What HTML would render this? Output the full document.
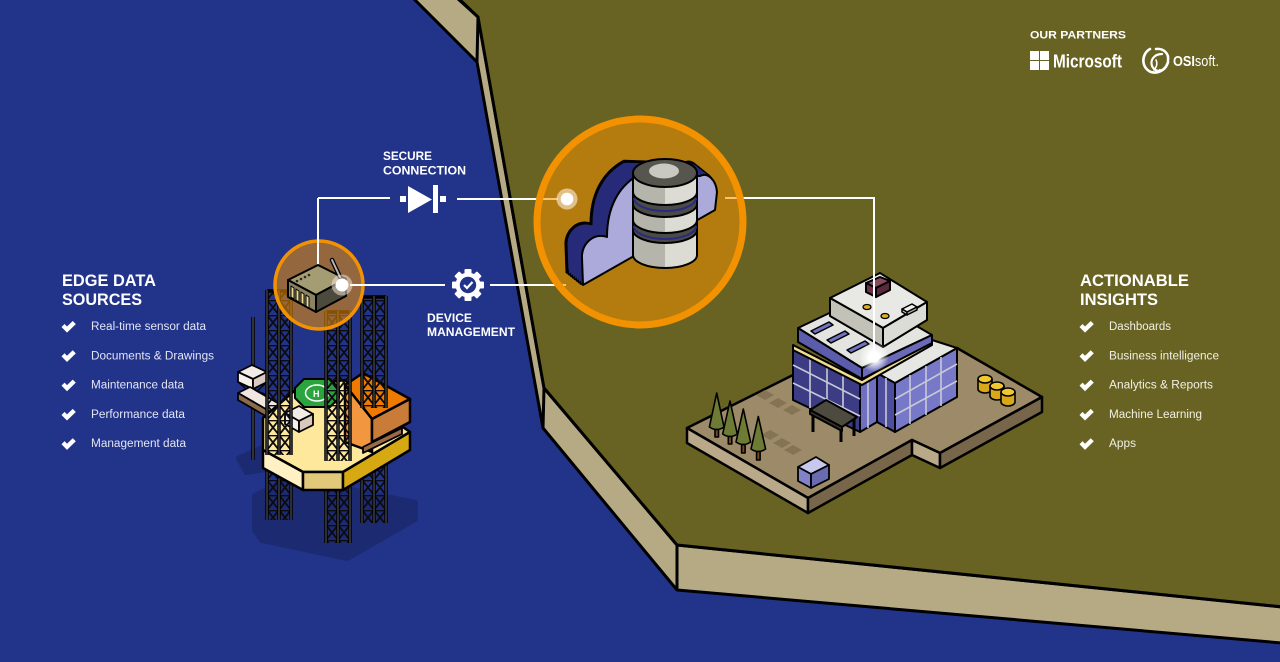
<!DOCTYPE html>
<html><head><meta charset="utf-8">
<style>
html,body{margin:0;padding:0;background:#22338a;}
svg{display:block;}
text{font-family:"Liberation Sans",sans-serif;}
</style></head><body>
<svg width="1280" height="662" viewBox="0 0 1280 662" xmlns="http://www.w3.org/2000/svg" xmlns:xlink="http://www.w3.org/1999/xlink">
<defs>
 <pattern id="pA" x="267" y="0" width="12" height="15" patternUnits="userSpaceOnUse"><path d="M0,0L12,15M12,0L0,15M0,0.5H12" stroke="#0b0b10" stroke-width="1.8" fill="none"/></pattern>
 <pattern id="pB" x="326" y="0" width="12" height="15" patternUnits="userSpaceOnUse"><path d="M0,0L12,15M12,0L0,15M0,0.5H12" stroke="#0b0b10" stroke-width="1.8" fill="none"/></pattern>
 <pattern id="pC" x="362" y="0" width="12" height="15" patternUnits="userSpaceOnUse"><path d="M0,0L12,15M12,0L0,15M0,0.5H12" stroke="#0b0b10" stroke-width="1.8" fill="none"/></pattern>
 <radialGradient id="glow"><stop offset="0" stop-color="#fff" stop-opacity="1"/><stop offset="0.35" stop-color="#fff" stop-opacity="0.95"/><stop offset="1" stop-color="#fff" stop-opacity="0"/></radialGradient>
 <linearGradient id="cyl" x1="633" x2="697" y1="0" y2="0" gradientUnits="userSpaceOnUse"><stop offset="0.5" stop-color="#b5b5ab"/><stop offset="0.5" stop-color="#dcdcd4"/></linearGradient>
 <path id="cl" d="M583,285 L582,258 C581,244 594,232 607,237 C607,208 618,186 640,174 L700,176 C708,172 716,180 717,192 L715,210 Z"/>
 <path id="chk" d="M0,5.5 L2.8,2.7 L5,5 L10.2,0 L13,2.8 L5,10.6 Z"/>
</defs>

<rect width="1280" height="662" fill="#22338a"/>

<!-- land -->
<polygon points="413,-2 457,-2 478,17 544,388 677,545 1282,607 1282,643 677,590 543,428 477,62" fill="#b5aa83" stroke="#000" stroke-width="3" stroke-linejoin="round"/>
<polygon points="457,-3 478,17 544,388 677,545 1283,607 1283,-3" fill="#686223" stroke="#000" stroke-width="3" stroke-linejoin="round"/>
<line x1="478" y1="17" x2="477" y2="62" stroke="#000" stroke-width="3"/>
<line x1="544" y1="388" x2="543" y2="428" stroke="#000" stroke-width="3"/>
<line x1="677" y1="545" x2="677" y2="590" stroke="#000" stroke-width="3"/>

<!-- partners -->
<text x="1030" y="38.5" font-size="11" font-weight="bold" fill="#fff" textLength="96" lengthAdjust="spacingAndGlyphs">OUR PARTNERS</text>
<g fill="#fff">
 <rect x="1030" y="51" width="9" height="9"/><rect x="1040" y="51" width="9" height="9"/>
 <rect x="1030" y="61" width="9" height="9"/><rect x="1040" y="61" width="9" height="9"/>
</g>
<text x="1053" y="67.5" font-size="18" font-weight="bold" fill="#fff" textLength="69" lengthAdjust="spacingAndGlyphs">Microsoft</text>
<g fill="none" stroke="#fff" stroke-linecap="round">
 <path d="M1150,49 C1141,54 1141,68 1151,72 C1158,74 1166,70 1168,62" stroke-width="2.6"/>
 <path d="M1156,49 C1164,48 1169,54 1168,60" stroke-width="2.6"/>
 <path d="M1162,54 C1154,54 1150,60 1152,66 C1154,70 1158,72 1160,70" stroke-width="2.2"/>
 <path d="M1156,60 C1158,64 1156,68 1154,70" stroke-width="1.6"/>
</g>
<text x="1173" y="66" font-size="15" fill="#fff" textLength="46" lengthAdjust="spacingAndGlyphs"><tspan font-weight="bold">OSI</tspan>soft.</text>

<!-- headings -->
<g fill="#fff" font-weight="bold" font-size="16.5">
 <text x="62" y="286" textLength="94" lengthAdjust="spacingAndGlyphs">EDGE DATA</text>
 <text x="62" y="305" textLength="80" lengthAdjust="spacingAndGlyphs">SOURCES</text>
 <text x="1080" y="286" textLength="109" lengthAdjust="spacingAndGlyphs">ACTIONABLE</text>
 <text x="1080" y="305" textLength="78" lengthAdjust="spacingAndGlyphs">INSIGHTS</text>
</g>
<g fill="#fff">
 <use xlink:href="#chk" transform="translate(61.5,321) scale(1.1)"/>
 <use xlink:href="#chk" transform="translate(61.5,350.3) scale(1.1)"/>
 <use xlink:href="#chk" transform="translate(61.5,379.6) scale(1.1)"/>
 <use xlink:href="#chk" transform="translate(61.5,408.9) scale(1.1)"/>
 <use xlink:href="#chk" transform="translate(61.5,438.2) scale(1.1)"/>
 <use xlink:href="#chk" transform="translate(1079.5,321) scale(1.1)"/>
 <use xlink:href="#chk" transform="translate(1079.5,350.3) scale(1.1)"/>
 <use xlink:href="#chk" transform="translate(1079.5,379.6) scale(1.1)"/>
 <use xlink:href="#chk" transform="translate(1079.5,408.9) scale(1.1)"/>
 <use xlink:href="#chk" transform="translate(1079.5,438.2) scale(1.1)"/>
</g>
<g fill="#e2e5f4" font-size="11.5">
 <text x="91" y="330" textLength="115" lengthAdjust="spacingAndGlyphs">Real-time sensor data</text>
 <text x="91" y="359.3" textLength="123" lengthAdjust="spacingAndGlyphs">Documents &amp; Drawings</text>
 <text x="91" y="388.6" textLength="93" lengthAdjust="spacingAndGlyphs">Maintenance data</text>
 <text x="91" y="417.9" textLength="94" lengthAdjust="spacingAndGlyphs">Performance data</text>
 <text x="91" y="447.2" textLength="95" lengthAdjust="spacingAndGlyphs">Management data</text>
</g>
<g fill="#f1f0e4" font-size="11.5">
 <text x="1109" y="330" textLength="62" lengthAdjust="spacingAndGlyphs">Dashboards</text>
 <text x="1109" y="359.3" textLength="110" lengthAdjust="spacingAndGlyphs">Business intelligence</text>
 <text x="1109" y="388.6" textLength="104" lengthAdjust="spacingAndGlyphs">Analytics &amp; Reports</text>
 <text x="1109" y="417.9" textLength="93" lengthAdjust="spacingAndGlyphs">Machine Learning</text>
 <text x="1109" y="447.2" textLength="27" lengthAdjust="spacingAndGlyphs">Apps</text>
</g>

<!-- connection labels -->
<g fill="#fff" font-weight="bold" font-size="11.5">
 <text x="383" y="160" textLength="49" lengthAdjust="spacingAndGlyphs">SECURE</text>
 <text x="383" y="174.5" textLength="83" lengthAdjust="spacingAndGlyphs">CONNECTION</text>
 <text x="427" y="322" textLength="45" lengthAdjust="spacingAndGlyphs">DEVICE</text>
 <text x="427" y="336" textLength="88" lengthAdjust="spacingAndGlyphs">MANAGEMENT</text>
</g>

<!-- ========== RIG ========== -->
<polygon points="255,496 292,478 415,503 415,519 347,558 262,540 255,530" fill="#1c2a72" stroke="#1c2a72" stroke-width="6" stroke-linejoin="round"/>
<polygon points="238,458 260,448 266,470 246,473" fill="#1c2a72" stroke="#1c2a72" stroke-width="4" stroke-linejoin="round"/>

<!-- lower legs -->
<g>
 <rect x="267" y="466" width="24" height="54" fill="url(#pA)"/>
 <path d="M267,466V520M279,466V520M291,466V520" stroke="#000" stroke-width="3.5"/>
 <path d="M267,466V520M279,466V520M291,466V520" stroke="#5c5c5c" stroke-width="1"/>
 <rect x="326" y="480" width="24" height="63" fill="url(#pB)"/>
 <path d="M326,480V543M338,480V543M350,480V543" stroke="#000" stroke-width="3.5"/>
 <path d="M326,480V543M338,480V543M350,480V543" stroke="#5c5c5c" stroke-width="1"/>
 <rect x="362" y="450" width="24" height="73" fill="url(#pC)"/>
 <path d="M362,450V523M374,450V523M386,450V523" stroke="#000" stroke-width="3.5"/>
 <path d="M362,450V523M374,450V523M386,450V523" stroke="#5c5c5c" stroke-width="1"/>
</g>

<!-- thin pole -->
<line x1="253" y1="317" x2="253" y2="460" stroke="#000" stroke-width="3.5"/>
<line x1="253" y1="317" x2="253" y2="460" stroke="#666" stroke-width="1"/>

<!-- left structure -->
<g stroke="#000" stroke-width="1.8" stroke-linejoin="round">
 <polygon points="238,372 252,365 267,372 253,379" fill="#f2ebe6"/>
 <polygon points="238,372 253,379 253,389 238,382" fill="#f6f0ea"/>
 <polygon points="253,379 267,372 267,382 253,389" fill="#d9cbc2"/>
 <path d="M238,382 L253,395 M253,389 L238,395 M253,389 L267,395 M267,382 L253,395" fill="none" stroke-width="1.2"/>
 <polygon points="238,393 250,387 295,413 283,419" fill="#f1e7e1"/>
 <polygon points="238,393 283,419 283,426 238,400" fill="#8c6a4e"/>
</g>

<!-- platform -->
<g stroke="#000" stroke-width="2.5" stroke-linejoin="round">
 <polygon points="263,450 303,472 343,472 410,432 390,418 345,380 300,386 263,418" fill="#fde89c"/>
 <polygon points="263,450 303,472 303,490 263,468" fill="#fff1c4"/>
 <polygon points="303,472 343,472 343,490 303,490" fill="#e2c97a"/>
 <polygon points="343,472 410,432 410,450 343,490" fill="#d6a913"/>
</g>

<!-- helipad -->
<polygon points="304,379 330,379 339,388 339,398 330,407 304,407 295,398 295,388" fill="#2aa43c" stroke="#000" stroke-width="2" stroke-linejoin="round"/>
<ellipse cx="317" cy="393" rx="11.5" ry="8" fill="none" stroke="#fff" stroke-width="1.5"/>
<text x="313" y="397" font-size="9" font-weight="bold" fill="#fff">H</text>

<!-- white block -->
<g stroke="#000" stroke-width="1.8" stroke-linejoin="round">
 <polygon points="285,413 299,406 313,414 299,421" fill="#f3ece6"/>
 <polygon points="285,413 299,421 299,432 285,424" fill="#f6f0ea"/>
 <polygon points="299,421 313,414 313,425 299,432" fill="#d9c9bc"/>
</g>

<!-- orange block -->
<g stroke="#000" stroke-width="2.5" stroke-linejoin="round">
 <polygon points="345,385 363,373 410,399 372,419" fill="#ef7a00"/>
 <polygon points="345,385 372,419 372,452 345,442" fill="#f39640"/>
 <polygon points="372,419 410,399 410,422 372,442" fill="#c97c38"/>
 <polygon points="363,447 402,428 402,434 363,453" fill="#9a6a48" stroke-width="1.8"/>
</g>

<!-- upper towers -->
<g>
 <rect x="267" y="290" width="24" height="165" fill="url(#pA)"/>
 <path d="M267,290V455M279,290V455M291,290V455M267,291H291" stroke="#000" stroke-width="3.5"/>
 <path d="M267,290V455M279,290V455M291,290V455" stroke="#5c5c5c" stroke-width="1"/>
 <rect x="326" y="311" width="24" height="150" fill="url(#pB)"/>
 <path d="M326,311V461M338,311V461M350,311V461M326,312H350" stroke="#000" stroke-width="3.5"/>
 <path d="M326,311V461M338,311V461M350,311V461" stroke="#5c5c5c" stroke-width="1"/>
 <rect x="362" y="296" width="24" height="112" fill="url(#pC)"/>
 <path d="M362,296V408M374,296V408M386,296V408M362,297H386" stroke="#000" stroke-width="3.5"/>
 <path d="M362,296V408M374,296V408M386,296V408" stroke="#5c5c5c" stroke-width="1"/>
</g>

<!-- small orange circle -->
<circle cx="319" cy="285" r="44" fill="rgba(243,146,0,0.55)" stroke="#f39200" stroke-width="3.5"/>

<!-- router -->
<line x1="318" y1="271" x2="318" y2="198" stroke="#fff" stroke-width="2"/>
<g stroke="#000" stroke-width="2" stroke-linejoin="round">
 <polygon points="288,280 318,265 346,279 316,295" fill="#a49c72"/>
 <polygon points="288,280 316,295 316,312 288,297" fill="#8a8262"/>
 <polygon points="316,295 346,279 346,296 316,312" fill="#4c4a3c"/>
 <g fill="#ecdc94" stroke-width="1">
  <polygon points="291,286 294,288 294,299 291,297"/>
  <polygon points="296,289 299,291 299,302 296,300"/>
  <polygon points="301,292 304,294 304,305 301,303"/>
  <polygon points="306,295 309,297 309,308 306,306"/>
 </g>
</g>
<g fill="#2a2a22"><circle cx="297" cy="281" r="1.3"/><circle cx="301" cy="279" r="1.3"/><circle cx="305" cy="277" r="1.3"/><circle cx="309" cy="275" r="1.3"/></g>
<line x1="332" y1="260" x2="340" y2="277" stroke="#000" stroke-width="4.5" stroke-linecap="round"/>
<line x1="332" y1="260" x2="340" y2="277" stroke="#b8b8b8" stroke-width="2" stroke-linecap="round"/>

<!-- connectors -->
<g stroke="#fff" stroke-width="2" fill="none">
 <path d="M318,198 H390"/>
 <path d="M457,199 H558"/>
 <path d="M350,285 H445"/>
 <path d="M490,285 H566"/>
 <path d="M725,198 H874 V352"/>
</g>
<circle cx="342" cy="285" r="10.5" fill="rgba(255,240,225,0.5)"/>
<circle cx="342" cy="285" r="6.5" fill="#fff"/>

<!-- diode -->
<g fill="#fff">
 <rect x="400" y="196" width="6" height="6"/>
 <polygon points="408,186 408,213 432,199.5"/>
 <rect x="433" y="185" width="5" height="28"/>
 <rect x="440" y="196" width="6" height="6"/>
</g>

<!-- gear -->
<g transform="translate(468,285)" fill="#fff">
 <circle r="12.5"/>
 <rect x="-3.5" y="-16" width="7" height="6" rx="1"/>
 <rect x="-3.5" y="-16" width="7" height="6" rx="1" transform="rotate(45)"/>
 <rect x="-3.5" y="-16" width="7" height="6" rx="1" transform="rotate(90)"/>
 <rect x="-3.5" y="-16" width="7" height="6" rx="1" transform="rotate(135)"/>
 <rect x="-3.5" y="-16" width="7" height="6" rx="1" transform="rotate(180)"/>
 <rect x="-3.5" y="-16" width="7" height="6" rx="1" transform="rotate(225)"/>
 <rect x="-3.5" y="-16" width="7" height="6" rx="1" transform="rotate(270)"/>
 <rect x="-3.5" y="-16" width="7" height="6" rx="1" transform="rotate(315)"/>
 <circle r="8.2" fill="#22338a"/>
 <path d="M-4,0 L-1,3 L4.5,-3" stroke="#fff" stroke-width="2.2" fill="none"/>
</g>

<!-- ========== CLOUD ========== -->
<circle cx="640" cy="222" r="103" fill="rgba(243,146,0,0.55)" stroke="#f39200" stroke-width="7"/>
<circle cx="567" cy="199" r="10.5" fill="rgba(255,240,220,0.6)"/>
<circle cx="567" cy="199" r="6.3" fill="#fff"/>

<g stroke="#000" stroke-width="3" fill="#262a78" stroke-linejoin="round">
 <use xlink:href="#cl" transform="translate(-2,-1.6)"/>
 <use xlink:href="#cl" transform="translate(-4,-3.2)"/>
 <use xlink:href="#cl" transform="translate(-6,-4.8)"/>
 <use xlink:href="#cl" transform="translate(-8,-6.4)"/>
 <use xlink:href="#cl" transform="translate(-10,-8)"/>
 <use xlink:href="#cl" transform="translate(-12,-9.6)"/>
 <use xlink:href="#cl" transform="translate(-14,-11.2)"/>
 <use xlink:href="#cl" transform="translate(-16,-12.8)"/>
</g>
<g stroke="none" fill="#262a78">
 <use xlink:href="#cl" transform="translate(-2,-1.6)"/>
 <use xlink:href="#cl" transform="translate(-4,-3.2)"/>
 <use xlink:href="#cl" transform="translate(-6,-4.8)"/>
 <use xlink:href="#cl" transform="translate(-8,-6.4)"/>
 <use xlink:href="#cl" transform="translate(-10,-8)"/>
 <use xlink:href="#cl" transform="translate(-12,-9.6)"/>
 <use xlink:href="#cl" transform="translate(-14,-11.2)"/>
</g>
<use xlink:href="#cl" fill="#abaadb" stroke="#000" stroke-width="2" stroke-linejoin="round"/>

<!-- cylinder -->
<g stroke="#000" stroke-width="2" stroke-linejoin="round">
 <path d="M633,230 L633,255 A32,13 0 0 0 697,255 L697,230 Z" fill="url(#cyl)"/>
 <path d="M633,220 L633,230 A32,13 0 0 0 697,230 L697,220 Z" fill="#4a4a46"/>
 <path d="M633,204 L633,220 A32,13 0 0 0 697,220 L697,204 Z" fill="url(#cyl)"/>
 <path d="M633,192 L633,204 A32,13 0 0 0 697,204 L697,192 Z" fill="#4a4a46"/>
 <path d="M633,173 L633,192 A32,13 0 0 0 697,192 L697,173 Z" fill="url(#cyl)"/>
 <ellipse cx="665" cy="173" rx="32" ry="14" fill="#56564f"/>
 <ellipse cx="664" cy="171" rx="15" ry="7.5" fill="#c9c9c1" stroke="none"/>
</g>
<path d="M634,198 A31,13 0 0 0 696,198" stroke="#2a2a80" stroke-width="2" fill="none"/>
<path d="M634,226 A31,13 0 0 0 696,226" stroke="#2a2a80" stroke-width="2" fill="none"/>

<!-- ========== BUILDING ========== -->
<g stroke="#000" stroke-width="2.5" stroke-linejoin="round">
 <polygon points="687,428 793,375 877,373 957,348 1042,397 940,453 912,440 808,498" fill="#9c8a68"/>
 <polygon points="687,428 808,498 808,513 687,443" fill="#b9a988"/>
 <polygon points="808,498 912,440 912,455 808,513" fill="#776649"/>
 <polygon points="912,440 940,453 940,468 912,455" fill="#b9a988"/>
 <polygon points="940,453 1042,397 1042,412 940,468" fill="#776649"/>
</g>
<!-- parking -->
<g fill="#857454">
 <polygon points="756,395 765,390 774,395 765,400"/>
 <polygon points="769,403 778,398 787,403 778,408"/>
 <polygon points="783,410 792,405 801,410 792,415"/>
 <polygon points="761,435 770,430 779,435 770,440"/>
 <polygon points="773,443 782,438 791,443 782,448"/>
 <polygon points="784,450 793,445 802,450 793,455"/>
</g>

<!-- building body -->
<g stroke="#000" stroke-width="2" stroke-linejoin="round">
 <polygon points="793,348 860,382 860,432 793,400" fill="#3c3c84"/>
 <polygon points="860,382 877,373 877,422 860,432" fill="#7070c0"/>
 <polygon points="877,373 895,383 895,432 877,422" fill="#4e4e9e"/>
 <polygon points="895,383 957,348 957,397 895,432" fill="#7878c8"/>
 <polygon points="877,373 932,340 957,348 895,383" fill="#e6e6e2"/>
</g>
<g stroke="#c8c8d8" stroke-width="1.6" fill="none">
 <path d="M810,357 V408 M827,365.5 V416 M843,373.5 V424"/>
 <path d="M793,365 L860,399 M793,383 L860,416"/>
 <path d="M868,378 V428"/>
 <path d="M886,378 V427"/>
 <path d="M910,375 V424 M926,366 V415 M941,357 V406"/>
 <path d="M895,399 L957,364 M895,415 L957,381"/>
</g>
<!-- canopy -->
<g stroke="#000" stroke-width="2" stroke-linejoin="round">
 <line x1="813" y1="410" x2="813" y2="432" stroke-width="3"/>
 <line x1="841" y1="425" x2="841" y2="442" stroke-width="3"/>
 <line x1="854" y1="418" x2="854" y2="436" stroke-width="3"/>
 <polygon points="810,410 826,400 857,417 842,427" fill="#4d4a40"/>
 <polygon points="810,410 842,427 842,431 810,414" fill="#35332c"/>
</g>
<!-- level 2 -->
<g stroke="#000" stroke-width="2" stroke-linejoin="round">
 <polygon points="793,345 862,380 932,340 932,345 862,385 793,350" fill="#f2dc90"/>
 <polygon points="798,328 865,296 932,335 862,368" fill="#e4e4e0"/>
 <polygon points="798,328 862,368 862,379 798,342" fill="#5c5cac"/>
 <polygon points="862,368 932,335 932,343 862,379" fill="#6a6ab8"/>
</g>
<g fill="#7272c2" stroke="#000" stroke-width="1.5" stroke-linejoin="round">
 <polygon points="811,331 829,322 833,325 815,334"/>
 <polygon points="827,340 845,331 849,334 831,343"/>
 <polygon points="847,350 865,341 869,344 851,353"/>
</g>
<!-- penthouse -->
<g stroke="#000" stroke-width="2" stroke-linejoin="round">
 <polygon points="830,298 880,273 927,302 883,328" fill="#e8e8e4"/>
 <polygon points="830,298 883,328 883,347 830,316" fill="#c2c2b8"/>
 <polygon points="883,328 927,302 927,320 883,347" fill="#dcdcd6"/>
 <polygon points="866,283 880,277 890,281 876,288" fill="#8a4a5e"/>
 <polygon points="866,283 876,288 876,297 866,292" fill="#6e3048"/>
 <polygon points="876,288 890,281 890,290 876,297" fill="#5a2a3c"/>
 <polygon points="902,309 912,304 917,307 907,312" fill="#f0f0ec" stroke-width="1.5"/>
 <polygon points="902,309 907,312 907,315 902,312" fill="#c8c8c0" stroke-width="1.5"/>
 <polygon points="907,312 917,307 917,310 907,315" fill="#b0b0a8" stroke-width="1.5"/>
 <ellipse cx="867" cy="307" rx="4" ry="2.5" fill="#e0b020" stroke-width="1.3"/>
 <ellipse cx="885" cy="316" rx="4" ry="2.5" fill="#e0b020" stroke-width="1.3"/>
</g>
<line x1="874" y1="198" x2="874" y2="352" stroke="#fff" stroke-width="2"/>
<circle cx="874" cy="357" r="15" fill="url(#glow)"/>
<circle cx="874" cy="357" r="5.5" fill="#fff"/>

<!-- trees -->
<g stroke="#000" stroke-width="1.6" stroke-linejoin="round">
 <rect x="715" y="426" width="3.5" height="11" fill="#7a4a1c"/>
 <path d="M716.7,393 L724,427 Q716.7,432 709.4,427 Z" fill="#6d7b35"/>
 <rect x="728.3" y="434" width="3.5" height="10" fill="#7a4a1c"/>
 <path d="M730,401 L737.3,434 Q730,439 722.7,434 Z" fill="#6d7b35"/>
 <rect x="741.6" y="442" width="3.5" height="11" fill="#7a4a1c"/>
 <path d="M743.3,409 L750.6,442 Q743.3,447 736,442 Z" fill="#6d7b35"/>
 <rect x="756.6" y="449" width="3.5" height="11" fill="#7a4a1c"/>
 <path d="M758.3,416.5 L765.6,449 Q758.3,454 751,449 Z" fill="#6d7b35"/>
</g>
<!-- barrels -->
<g stroke="#000" stroke-width="1.6">
 <path d="M978,379 V389 A7,4 0 0 0 992,389 V379" fill="#d8a818"/>
 <ellipse cx="985" cy="379" rx="7" ry="4" fill="#f0c830"/>
 <path d="M990,386 V396 A7,4 0 0 0 1004,396 V386" fill="#d8a818"/>
 <ellipse cx="997" cy="386" rx="7" ry="4" fill="#f0c830"/>
 <path d="M1001,392 V402 A7,4 0 0 0 1015,402 V392" fill="#d8a818"/>
 <ellipse cx="1008" cy="392" rx="7" ry="4" fill="#f0c830"/>
</g>
<!-- small box -->
<g stroke="#000" stroke-width="1.8" stroke-linejoin="round">
 <polygon points="798,467 816,457 829,465 811,474" fill="#c8c8ee"/>
 <polygon points="798,467 811,474 811,488 798,481" fill="#8282c8"/>
 <polygon points="811,474 829,465 829,479 811,488" fill="#6a6ab0"/>
</g>
</svg>
</body></html>
